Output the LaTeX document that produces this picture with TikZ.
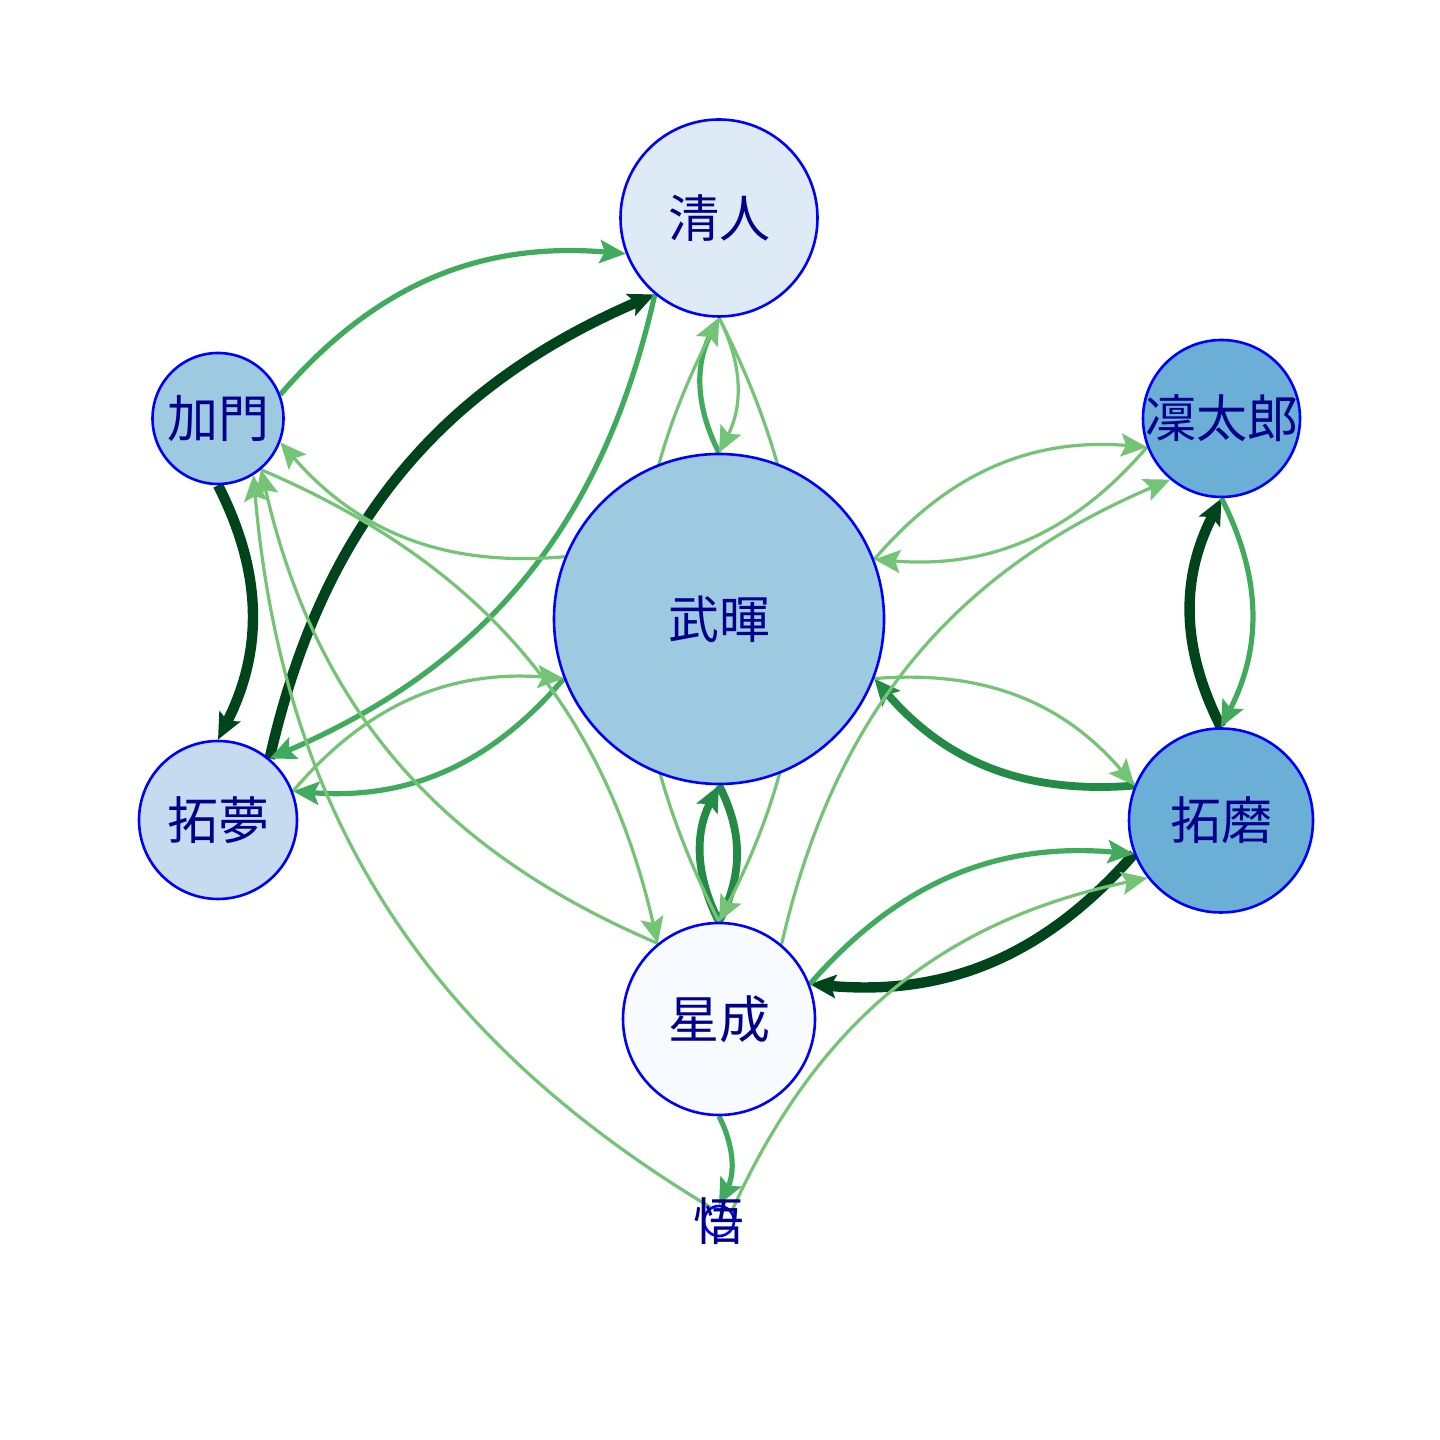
\documentclass[tikz,border=0pt]{standalone}
\usepackage{fontspec}
\newfontfamily\jpfont{Noto Sans CJK JP}
\usetikzlibrary{arrows.meta,backgrounds}
\definecolor{gA}{HTML}{74C476}
\definecolor{gB}{HTML}{41AB5D}
\definecolor{gC}{HTML}{238B45}
\definecolor{gD}{HTML}{00441B}
\definecolor{bK}{HTML}{DEEBF7}
\definecolor{bG}{HTML}{9ECAE1}
\definecolor{bR}{HTML}{6BAED6}
\definecolor{bY}{HTML}{C6DBEF}
\definecolor{bS}{HTML}{F7FBFF}
\definecolor{navytext}{HTML}{00008B}
\begin{document}
\begin{tikzpicture}[x=1pt,y=1pt,
  vtx/.style={circle, draw=blue, line width=2.6pt, inner sep=0pt},
  lbl/.style={text=navytext, font=\jpfont\fontsize{51}{51}\selectfont, inner sep=0pt},
  tip/.style={-{Stealth[length=26pt,width=23pt,inset=5pt]}},
  eA/.style={draw=gA, line width=3.2pt, tip},
  eB/.style={draw=gB, line width=5.2pt, tip},
  eC/.style={draw=gC, line width=7.8pt, tip},
  eCn/.style={draw=gC, line width=7.8pt},
  eD/.style={draw=gD, line width=10.4pt, tip},
  bl/.style={bend left=27}
]
\useasboundingbox (0,0) rectangle (1440,1440);
\begin{pgfonlayer}{background}
\fill[white] (0,0) rectangle (1440,1440);
\end{pgfonlayer}

% vertices
\node[vtx, fill=bK, minimum size=197pt] (K) at (719,1222) {};
\node[vtx, fill=bG, minimum size=131pt] (G) at (218,1021.5) {};
\node[vtx, fill=bR, minimum size=157pt] (R) at (1221.5,1021.5) {};
\node[vtx, fill=bG, minimum size=330pt] (T) at (719,821) {};
\node[vtx, fill=bY, minimum size=158pt] (Y) at (218,620) {};
\node[vtx, fill=bR, minimum size=184pt] (M) at (1221,619.5) {};
\node[vtx, fill=bS, minimum size=192pt] (S) at (719,421) {};
\node[vtx, fill=bS, minimum size=30pt] (O) at (719,219) {};

\node[lbl] (Kl) at (K) {清人};
\node[lbl] (Gl) at (G) {加門};
\node[lbl] (Rl) at (R) {凜太郎};
\node[lbl] (Tl) at (T) {武暉};
\node[lbl] (Yl) at (Y) {拓夢};
\node[lbl] (Ml) at (M) {拓磨};
\node[lbl] (Sl) at (S) {星成};
\node[lbl] (Ol) at (O) {悟};

\begin{pgfonlayer}{background}
% dark edges
\draw[eD] (G.-90) to[bl] (Y.90);
\draw[eD] (Y.50.3) to[bl] (K.230.3);
\draw[eD] (M.90) to[bl] (R.-90);
\draw[eD] (M.201.6) to[bl] (S.21.6);
% gC edges
\draw[eCn] (T.-90) to[bl] (S.90);
\draw[eC] (S.90) to[bl] (T.-90);
\draw[eC] (M.158.1) to[bl] (T.-21.9);
% medium edges
\draw[eB] (G.21.9) to[bl] (K.201.9);
\draw[eB] (K.230.3) to[bl] (Y.50.3);
\draw[eB] (T.90) to[bl] (K.-90);
\draw[eB] (T.201.9) to[bl] (Y.21.9);
\draw[eB] (R.-90) to[bl] (M.90);
\draw[eB] (S.21.6) to[bl] (M.201.6);
\draw[eB] (S.-90) to[bl] (O.90);
% light edges
\draw[eA] (K.-90) to[bl] (T.90);
\draw[eA] (T.158.1) to[bl] (G.-21.9);
\draw[eA] (Y.21.9) to[bl] (T.201.9);
\draw[eA] (G.-50.2) to[bl] (S.129.8);
\draw[eA] (S.129.8) to[bl] (G.-50.2);
\draw[eA] (O.122) to[bl] (G.-58);
\draw[eA] (T.21.9) to[bl] (R.201.9);
\draw[eA] (R.201.9) to[bl] (T.21.9);
\draw[eA] (S.50.1) to[bl] (R.230.1);
\draw[eA] (T.-21.9) to[bl] (M.158.1);
\draw[eA] (O.38.6) to[bl] (M.218.6);
\draw[eA] (K.-90) to[bl] (S.90);
\draw[eA] (S.90) to[bl] (K.-90);
\end{pgfonlayer}
\end{tikzpicture}
\end{document}
